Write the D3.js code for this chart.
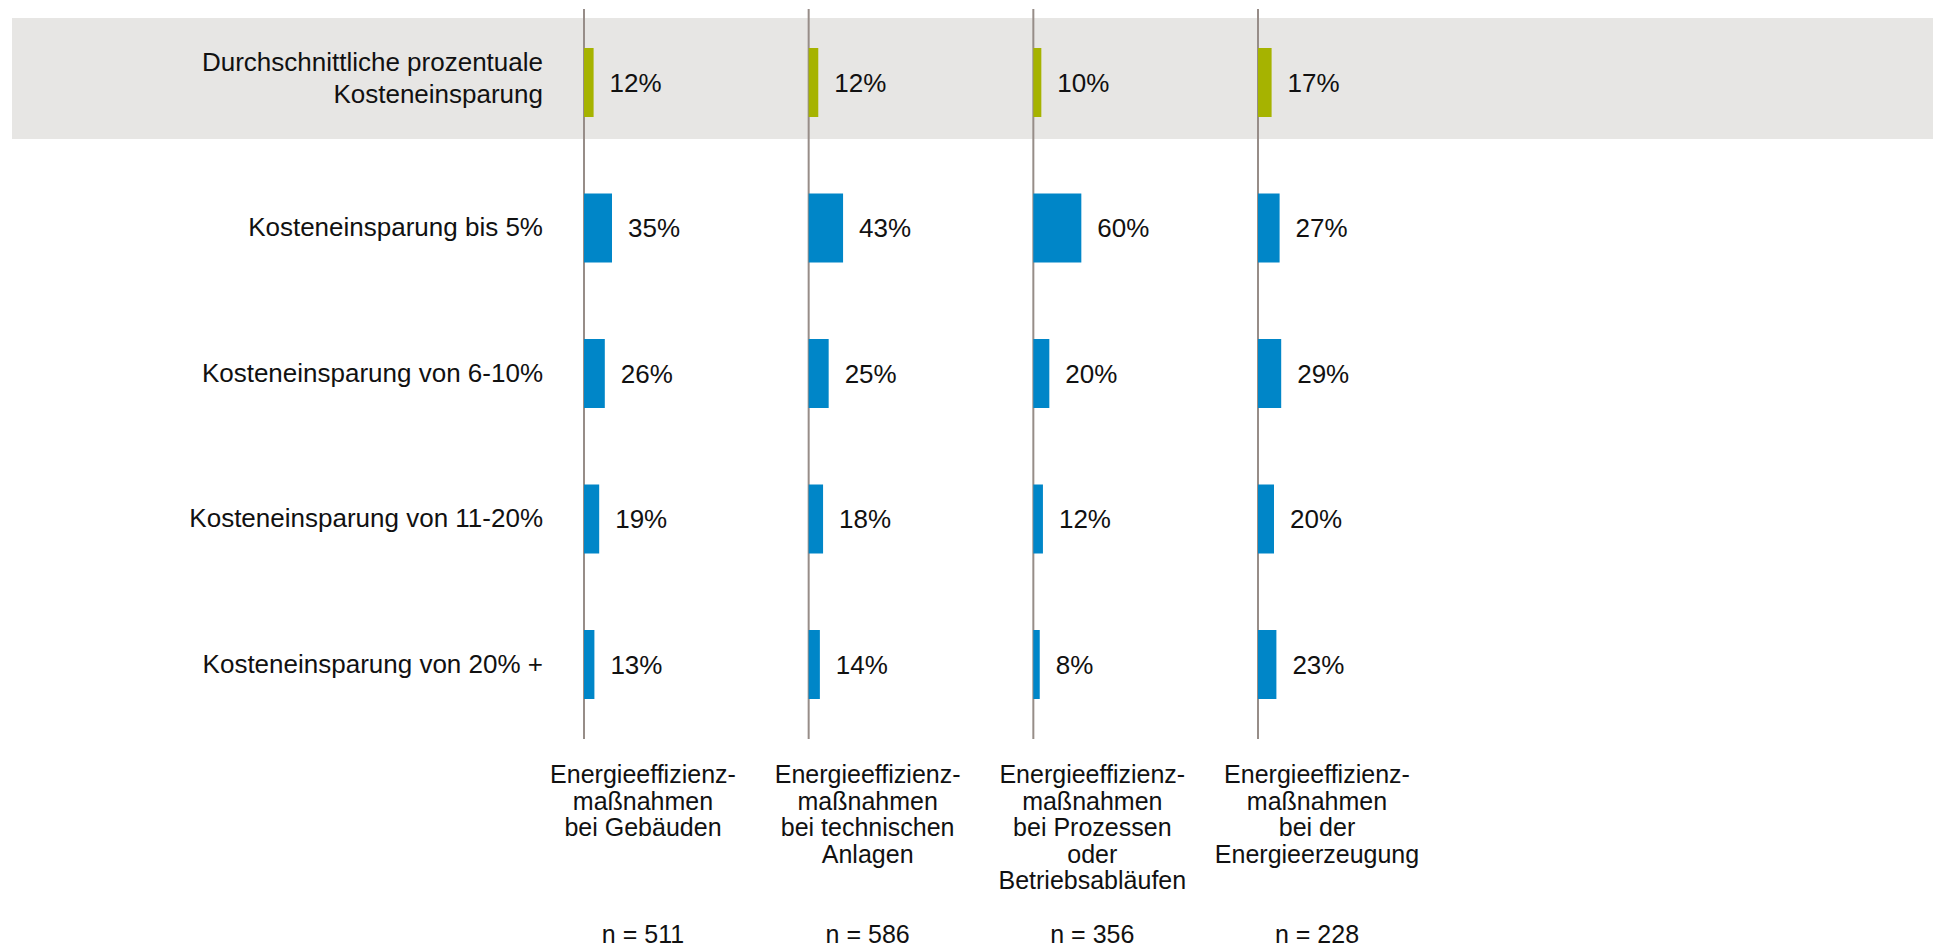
<!DOCTYPE html>
<html>
<head>
<meta charset="utf-8">
<script src="https://cdn.jsdelivr.net/npm/d3@7"></script>
<style>
  body { margin: 0; background: #fff; }
  svg { display: block; font-family: "Liberation Sans", Arial, Helvetica, sans-serif; }
</style>
</head>
<body>
<div id="chart"></div>
<script>
// Data
const groups = ["geb", "tech", "proz", "erz"];
const groupLabels = [
  ["Energieeffizienz-", "maßnahmen", "bei Gebäuden"],
  ["Energieeffizienz-", "maßnahmen", "bei technischen", "Anlagen"],
  ["Energieeffizienz-", "maßnahmen", "bei Prozessen", "oder", "Betriebsabläufen"],
  ["Energieeffizienz-", "maßnahmen", "bei der", "Energieerzeugung"]
];
const nValues = [511, 586, 356, 228];

const rows = ["avg", "r5", "r10", "r20", "r20p"];
const rowLabels = [
  ["Durchschnittliche prozentuale", "Kosteneinsparung"],
  ["Kosteneinsparung bis 5%"],
  ["Kosteneinsparung von 6-10%"],
  ["Kosteneinsparung von 11-20%"],
  ["Kosteneinsparung von 20% +"]
];

// values per row, one per group
const avgSaving = [12, 12, 10, 17];
const upTo5 = [35, 43, 60, 27];
const from6to10 = [26, 25, 20, 29];
const from11to20 = [19, 18, 12, 20];
const over20 = [13, 14, 8, 23];
const values = [avgSaving, upTo5, from6to10, from11to20, over20];

const width = 1936, height = 947;
const svg = d3.select("#chart").append("svg")
  .attr("width", width)
  .attr("height", height);

// scales
const x0 = d3.scalePoint().domain(groups).range([584, 1258]);
const xv = d3.scaleLinear().domain([0, 100]).range([0, 80]);
const y = d3.scalePoint().domain(rows).range([82.5, 664.5]);
const barH = 69;

// highlight band behind average row
svg.append("rect")
  .attr("x", 12)
  .attr("y", y("avg") - 64.5)
  .attr("width", 1921)
  .attr("height", 121)
  .attr("fill", "#e7e6e4");

// vertical axis lines
svg.selectAll("line.axis")
  .data(groups)
  .join("line")
  .attr("class", "axis")
  .attr("x1", d => x0(d))
  .attr("x2", d => x0(d))
  .attr("y1", 9)
  .attr("y2", 739)
  .attr("stroke", "#978d88")
  .attr("stroke-width", 2);

// bars + value labels
rows.forEach((r, ri) => {
  const g = svg.append("g");
  const color = ri === 0 ? "#a6b300" : "#0086c8";
  g.selectAll("rect")
    .data(values[ri])
    .join("rect")
    .attr("x", (d, i) => x0(groups[i]))
    .attr("y", y(r) - barH / 2)
    .attr("width", d => xv(d))
    .attr("height", barH)
    .attr("fill", color);

  g.selectAll("text")
    .data(values[ri])
    .join("text")
    .attr("x", (d, i) => x0(groups[i]) + xv(d) + 16)
    .attr("y", y(r))
    .attr("dy", "0.35em")
    .attr("font-size", 26)
    .attr("fill", "#111")
    .text(d => d + "%");
});

// row labels
rows.forEach((r, ri) => {
  const lines = rowLabels[ri];
  const lh = 32;
  const t = svg.append("text")
    .attr("x", 543)
    .attr("y", y(r) - (lines.length - 1) * lh / 2 - (lines.length > 1 ? 5 : 1))
    .attr("text-anchor", "end")
    .attr("font-size", 26)
    .attr("fill", "#111");
  lines.forEach((l, li) => {
    t.append("tspan")
      .attr("x", 543)
      .attr("dy", li === 0 ? "0.35em" : lh)
      .text(l);
  });
});

// group labels below
groups.forEach((g, gi) => {
  const cx = x0(g) + 59;
  const t = svg.append("text")
    .attr("x", cx)
    .attr("y", 783)
    .attr("text-anchor", "middle")
    .attr("font-size", 25)
    .attr("fill", "#111");
  groupLabels[gi].forEach((l, li) => {
    t.append("tspan")
      .attr("x", cx)
      .attr("dy", li === 0 ? 0 : 26.5)
      .text(l);
  });

  svg.append("text")
    .attr("x", cx)
    .attr("y", 943)
    .attr("text-anchor", "middle")
    .attr("font-size", 25)
    .attr("fill", "#111")
    .text("n = " + nValues[gi]);
});
</script>
</body>
</html>
